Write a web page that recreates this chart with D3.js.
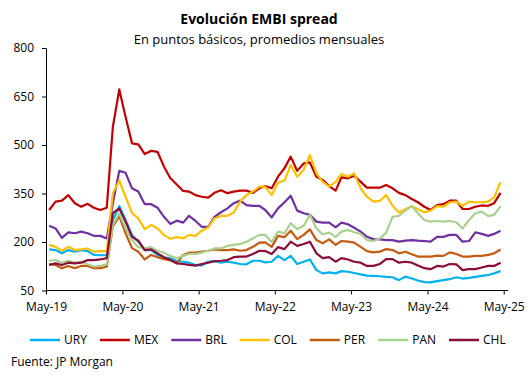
<!DOCTYPE html>
<html>
<head>
<meta charset="utf-8">
<script src="https://cdn.jsdelivr.net/npm/d3@7"></script>
<style>
  html, body { margin: 0; padding: 0; background: #fff; }
  svg { display: block; font-family: "Open Sans", sans-serif; }
</style>
</head>
<body>
<svg id="chart" width="532" height="380"></svg>
<script>
// ---- Data (monthly averages, May-19 .. Apr-25) ----
const startYear = 2019, startMonth = 4; // May 2019
const seriesNames = ["URY", "MEX", "BRL", "COL", "PER", "PAN", "CHL"];
const seriesColors = ["#00B0F0", "#C00000", "#7030A0", "#FFC000", "#C55A11", "#A9D18E", "#8B0D3A"];

const URY = [177,175,165,175,170,175,172,160,159,159,268,311,268,222,201,175,175,160,152,150,141,139,136,129,127,139,141,136,139,136,132,131,142,142,137,139,157,144,157,132,139,146,113,103,106,103,110,108,104,100,96,95,94,92,91,82,93,87,81,76,75,79,82,85,91,87,89,92,95,98,103,110];
const MEX = [299,325,328,345,320,309,318,306,299,306,555,672,587,505,502,472,482,479,433,398,378,358,356,345,340,337,352,360,351,356,359,359,352,366,373,366,402,428,464,420,443,446,402,392,373,359,400,397,405,386,368,368,368,376,366,352,345,333,323,309,299,314,317,328,328,302,302,309,313,312,320,352];
const BRL = [250,242,213,230,227,232,227,219,219,211,320,420,414,366,356,317,317,306,278,256,266,260,281,265,247,247,278,292,304,320,328,314,312,312,299,276,304,323,343,297,289,284,263,260,260,245,260,255,244,232,216,209,208,206,206,201,204,206,204,203,201,216,216,222,222,201,203,230,225,219,225,235];
const COL = [191,185,173,185,175,177,180,170,172,172,351,390,340,289,273,240,253,242,222,210,215,211,222,219,235,245,273,281,281,291,325,345,356,371,371,345,383,390,438,402,423,469,412,386,371,386,410,402,412,366,340,325,327,345,312,291,301,311,301,292,297,311,309,323,325,312,325,323,323,325,338,385];
const PER = [132,129,119,126,119,126,126,119,119,124,247,280,227,181,170,146,160,153,147,144,134,160,167,167,170,173,177,175,175,177,173,175,185,198,199,185,219,215,235,209,222,239,206,196,208,191,203,201,198,185,172,168,170,178,175,165,170,162,155,155,155,158,157,168,163,155,155,157,157,160,165,177];
const PAN = [142,144,136,142,136,139,131,124,126,131,252,289,242,206,184,181,184,172,167,157,150,157,163,163,167,173,180,180,188,191,194,201,211,222,222,200,232,227,258,240,250,284,242,224,229,216,232,237,230,225,206,203,211,229,278,281,297,311,289,268,263,265,263,265,261,242,268,289,294,280,284,311];
const CHL = [129,134,129,136,134,136,144,144,146,150,289,304,263,216,204,175,177,165,153,144,134,132,129,127,132,136,141,142,144,153,155,155,163,173,172,163,184,178,201,188,194,201,165,150,153,139,150,146,139,136,126,126,132,147,147,136,139,136,127,119,116,126,124,132,131,113,116,116,121,126,126,136];
const seriesValues = [URY, MEX, BRL, COL, PER, PAN, CHL];

const yTicks = [50, 200, 350, 500, 650, 800];
const xTickLabels = ["May-19", "May-20", "May-21", "May-22", "May-23", "May-24", "May-25"];

const titleText = "Evolución EMBI spread";
const subtitleText = "En puntos básicos, promedios mensuales";
const sourceText = "Fuente: JP Morgan";

// ---- Layout ----
const svg = d3.select("#chart");
const plotLeft = 46, plotRight = 503.7, plotTop = 48, plotBottom = 290.5;

const x = d3.scaleTime()
  .domain([new Date(2019, 4, 1), new Date(2025, 4, 1)])
  .range([plotLeft, plotRight]);
const y = d3.scaleLinear().domain([50, 800]).range([plotBottom, plotTop]);

const dates = URY.map((_, i) => new Date(startYear, startMonth + i, 16));
const xTickDates = xTickLabels.map((_, i) => new Date(2019 + i, 4, 1));

// Title
svg.append("text").attr("x", 259).attr("y", 23.5).attr("text-anchor", "middle")
  .style("font-size", "14px").style("font-weight", "bold").attr("fill", "#000").text(titleText);
svg.append("text").attr("x", 259).attr("y", 44).attr("text-anchor", "middle")
  .style("font-size", "13px").attr("fill", "#000").text(subtitleText);

// Y axis
const yAxis = d3.axisLeft(y).tickValues(yTicks).tickSize(4).tickSizeOuter(0).tickPadding(8);
const gy = svg.append("g").attr("transform", `translate(${plotLeft},0)`).call(yAxis);
gy.selectAll("text").style("font-size", "12px").style("font-family", "'Open Sans', sans-serif").attr("fill", "#000");
gy.selectAll("line, path").attr("stroke", "#000");

// X axis
const xAxis = d3.axisBottom(x).tickValues(xTickDates).tickSize(4).tickSizeOuter(0).tickPadding(8)
  .tickFormat((d, i) => xTickLabels[i]);
const gx = svg.append("g").attr("transform", `translate(0,${plotBottom})`).call(xAxis);
gx.select(".domain").remove();
gx.append("line").attr("x1", plotLeft).attr("x2", plotRight + 4.5).attr("y1", 0).attr("y2", 0).attr("stroke", "#000");
gx.selectAll("text").style("font-size", "12px").style("font-family", "'Open Sans', sans-serif").attr("fill", "#000");
gx.selectAll(".tick line").attr("stroke", "#000");

// Lines
const line = d3.line().x((d, i) => x(dates[i])).y(d => y(d)).curve(d3.curveLinear);
seriesValues.forEach((vals, k) => {
  svg.append("path").datum(vals).attr("d", line)
    .attr("fill", "none").attr("stroke", seriesColors[k]).attr("stroke-width", 2.2)
    .attr("stroke-linejoin", "round").attr("stroke-linecap", "butt");
});

// Legend
let lx = 30;
const ly = 340;
seriesNames.forEach((name, k) => {
  const g = svg.append("g");
  g.append("line").attr("x1", lx).attr("x2", lx + 30).attr("y1", ly).attr("y2", ly)
    .attr("stroke", seriesColors[k]).attr("stroke-width", 2.5);
  const t = g.append("text").attr("x", lx + 34).attr("y", ly + 4.3)
    .style("font-size", "12px").attr("fill", "#000").text(name);
  lx = lx + 34 + t.node().getComputedTextLength() + 13;
});

// Source
svg.append("text").attr("x", 11).attr("y", 366).style("font-size", "12px").attr("fill", "#000").text(sourceText);
</script>
</body>
</html>
